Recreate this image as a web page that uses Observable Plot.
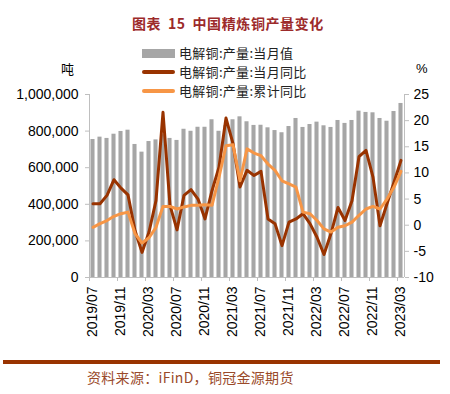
<!DOCTYPE html>
<html><head><meta charset="utf-8">
<script src="https://cdn.jsdelivr.net/npm/d3@7"></script>
<script src="https://cdn.jsdelivr.net/npm/@observablehq/plot@0.6"></script>
<style>
body{margin:0;background:#fff;}
#wrap{position:relative;width:450px;height:394px;overflow:hidden;font-family:"Noto Sans CJK SC",sans-serif;}
#chart{position:absolute;left:0;top:0;}
.abs{position:absolute;white-space:nowrap;}
#title{left:132px;top:14px;font-size:14px;line-height:18px;font-weight:bold;color:#9C2A2A;letter-spacing:0.6px;word-spacing:3px;}
.leg{left:142px;font-size:13px;line-height:16px;color:#222;display:flex;align-items:center;letter-spacing:0.3px;}
.sw{display:inline-block;width:33px;margin-right:4px;}
#unitL{left:61px;top:61px;font-size:13px;line-height:16px;color:#000;}
#unitR{left:416px;top:61px;font-size:13px;line-height:16px;color:#000;font-family:"Liberation Sans",Arial,sans-serif;}
#rule{left:3px;top:360px;width:437px;height:4px;background:#993300;}
#cap{left:87px;top:368px;font-size:14px;line-height:18px;color:#9A4A2A;letter-spacing:0.3px;}
</style></head><body>
<div id="wrap">
  <div id="chart"></div>
  <div id="title" class="abs">图表 15 中国精炼铜产量变化</div>
  <div class="abs leg" style="top:45px"><span class="sw" style="height:9px;background:#A6A6A6"></span>电解铜:产量:当月值</div>
  <div class="abs leg" style="top:64px"><span class="sw" style="height:4px;border-radius:2px;background:#993300"></span>电解铜:产量:当月同比</div>
  <div class="abs leg" style="top:83px"><span class="sw" style="height:4px;border-radius:2px;background:#F79646"></span>电解铜:产量:累计同比</div>
  <div id="unitL" class="abs">吨</div>
  <div id="unitR" class="abs">%</div>
  <div id="rule" class="abs"></div>
  <div id="cap" class="abs">资料来源：iFinD，铜冠金源期货</div>
</div>
<script>
const months = ["2019/07","2019/08","2019/09","2019/10","2019/11","2019/12",
  "2020/01","2020/02","2020/03","2020/04","2020/05","2020/06","2020/07","2020/08","2020/09","2020/10","2020/11","2020/12",
  "2021/01","2021/02","2021/03","2021/04","2021/05","2021/06","2021/07","2021/08","2021/09","2021/10","2021/11","2021/12",
  "2022/01","2022/02","2022/03","2022/04","2022/05","2022/06","2022/07","2022/08","2022/09","2022/10","2022/11","2022/12",
  "2023/01","2023/02","2023/03"];
// 电解铜:产量:当月值 (吨)
const output = [754000,767000,760000,783000,798000,805000,727000,685000,743000,752000,
  780000,760000,749000,810000,799000,821000,821000,862000,799000,830000,
  862000,878000,851000,831000,832000,818000,803000,791000,825000,869000,
  820000,836000,849000,829000,820000,858000,842000,858000,909000,902000,
  900000,869000,854000,907000,951000];
// 电解铜:产量:当月同比 (%)
const monthYoY = [4.1,4.1,5.7,8.7,7.1,5.8,-1.0,-5.2,-1.3,4.7,
  21.6,3.8,-0.9,5.7,6.8,5.0,1.2,6.6,11.1,20.5,
  15.6,7.3,10.5,9.5,10.3,1.2,0.3,-3.9,0.6,1.2,
  2.2,0.3,-2.3,-5.6,-1.6,3.4,0.9,4.7,13.1,14.3,
  9.2,-0.1,4.1,8.2,12.4];
// 电解铜:产量:累计同比 (%)
const cumYoY = [-0.4,0.3,0.9,1.7,2.2,2.5,-1.6,-3.4,-2.4,-0.4,
  3.6,3.6,3.1,3.5,3.8,3.8,3.9,3.8,9.2,15.2,
  15.4,8.5,14.6,13.8,13.3,11.7,10.5,8.5,7.9,7.3,
  2.5,2.2,0.9,-0.7,-1.3,-0.4,-0.1,0.6,1.9,3.1,
  3.6,3.1,5.0,7.3,10.3];
const leftTicks = [0,200000,400000,600000,800000,1000000];
const rightTicks = [-10,-5,0,5,10,15,20,25];
const labelMonths = ["2019/07","2019/11","2020/03","2020/07","2020/11","2021/03","2021/07","2021/11","2022/03","2022/07","2022/11","2023/03"];

const n = months.length;
const idx = d3.range(n);
const toL = p => (p + 10) / 35 * 1e6;
const fromL = v => Math.round(v / 1e6 * 35 - 10);
const boundaryTicks = idx.filter(i => i % 4 === 0);
const labelPos = labelMonths.map(m => months.indexOf(m) + 0.5);
const grey = "#BFBFBF";

const chart = Plot.plot({
  width: 450, height: 350,
  marginLeft: 89, marginRight: 46, marginTop: 94, marginBottom: 73,
  x: {type: "linear", domain: [0, n]},
  y: {domain: [0, 1e6]},
  style: {fontFamily: "'Liberation Sans', Arial, sans-serif", fontSize: "14px", color: "#000", background: "transparent"},
  marks: [
    Plot.rectY(idx, {x1: i => i + 0.21, x2: i => i + 0.79, y: i => output[i], fill: "#A6A6A6"}),
    Plot.ruleY([0], {stroke: grey}),
    Plot.ruleX([0], {stroke: grey}),
    Plot.ruleX([n], {stroke: grey}),
    Plot.line(idx, {x: i => i + 0.5, y: i => toL(monthYoY[i]), stroke: "#993300", strokeWidth: 3}),
    Plot.line(idx, {x: i => i + 0.5, y: i => toL(cumYoY[i]), stroke: "#F79646", strokeWidth: 3}),
    Plot.axisY(leftTicks, {anchor: "left", tickSize: 4, tickPadding: 7, tickFormat: d3.format(","), stroke: grey, fill: "#000"}),
    Plot.axisY(rightTicks.map(toL), {anchor: "right", tickSize: 4, tickPadding: 5, tickFormat: fromL, stroke: grey, fill: "#000"}),
    Plot.axisX(boundaryTicks, {anchor: "bottom", tickSize: 4, tickFormat: () => "", stroke: grey}),
    Plot.axisX(labelPos, {anchor: "bottom", tickSize: 0, tickPadding: 9, tickRotate: -90, tickFormat: v => months[Math.round(v - 0.5)], fill: "#000"})
  ]
});
document.getElementById("chart").appendChild(chart);
</script>
</body></html>
